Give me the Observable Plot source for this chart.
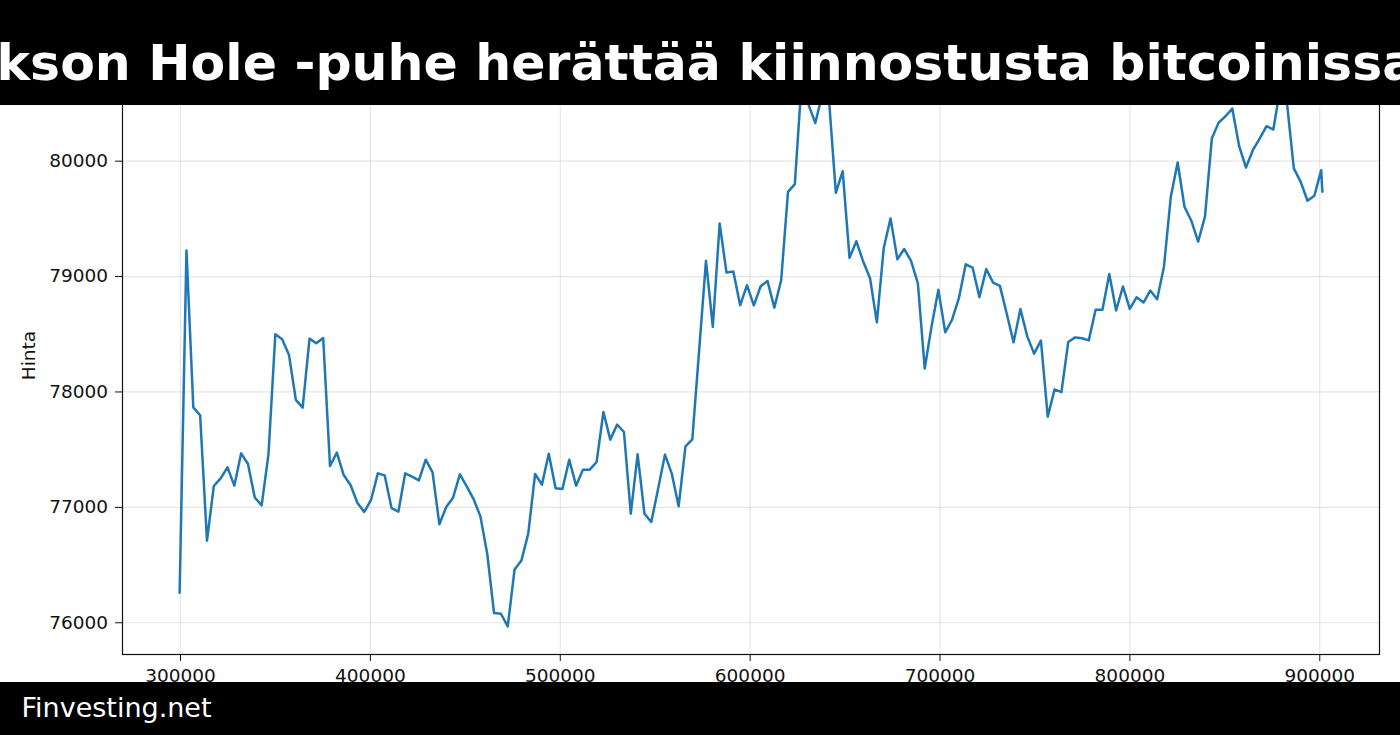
<!DOCTYPE html>
<html>
<head>
<meta charset="utf-8">
<script src="https://cdn.jsdelivr.net/npm/d3@7"></script>
<script src="https://cdn.jsdelivr.net/npm/@observablehq/plot@0.6"></script>
<style>
  html, body { margin: 0; padding: 0; background: white; }
  #wrap { position: relative; width: 1400px; height: 735px; overflow: hidden; background: white; }
  #chart { position: absolute; left: 0; top: 0; }
  .band { position: absolute; left: 0; }
</style>
</head>
<body>
<div id="wrap">
  <div id="chart"></div>
  <svg class="band" id="banner" width="1400" height="105" style="top:0">
    <rect width="1400" height="105" fill="black"></rect>
    <text id="titleText" x="665" y="80" text-anchor="middle" fill="white" font-family="DejaVu Sans" font-weight="bold" font-size="50.5"></text>
  </svg>
  <svg class="band" id="footer" width="1400" height="53" style="top:682px">
    <rect width="1400" height="53" fill="black"></rect>
    <text id="footText" x="21.5" y="34.5" fill="white" font-family="DejaVu Sans" font-size="27"></text>
  </svg>
</div>
<script>
const titleText = "Jackson Hole -puhe herättää kiinnostusta bitcoinissa";
const footText = "Finvesting.net";
const yLabel = "Hinta";

const xTicks = [300000, 400000, 500000, 600000, 700000, 800000, 900000];
const yTicks = [76000, 77000, 78000, 79000, 80000];

const xValues = [
  299540, 303140, 306740, 310340, 313940, 317540, 321140, 324740, 328340, 331940,
  335540, 339140, 342740, 346340, 349940, 353540, 357140, 360740, 364340, 367940,
  371540, 375140, 378740, 382340, 385940, 389540, 393140, 396740, 400340, 403940,
  407540, 411140, 414740, 418340, 421940, 425540, 429140, 432740, 436340, 439940,
  443540, 447140, 450740, 454340, 457940, 461540, 465140, 468740, 472340, 475940,
  479540, 483140, 486740, 490340, 493940, 497540, 501140, 504740, 508340, 511940,
  515540, 519140, 522740, 526340, 529940, 533540, 537140, 540740, 544340, 547940,
  551540, 555140, 558740, 562340, 565940, 569540, 573140, 576740, 580340, 583940,
  587540, 591140, 594740, 598340, 601940, 605540, 609140, 612740, 616340, 619940,
  623540, 627140, 630740, 634340, 637940, 641540, 645140, 648740, 652340, 655940,
  659540, 663140, 666740, 670340, 673940, 677540, 681140, 684740, 688340, 691940,
  695540, 699140, 702740, 706340, 709940, 713540, 717140, 720740, 724340, 727940,
  731540, 735140, 738740, 742340, 745940, 749540, 753140, 756740, 760340, 763940,
  767540, 771140, 774740, 778340, 781940, 785540, 789140, 792740, 796340, 799940,
  803540, 807140, 810740, 814340, 817940, 821540, 825140, 828740, 832340, 835940,
  839540, 843140, 846740, 850340, 853940, 857540, 861140, 864740, 868340, 871940,
  875540, 879140, 882740, 886340, 889940, 893540, 897140, 900740, 901360
];

const prices = [
  76260, 79225, 77867, 77798, 76711, 77185, 77251, 77347, 77188, 77468,
  77376, 77084, 77017, 77462, 78500, 78457, 78321, 77931, 77864, 78462,
  78422, 78468, 77358, 77474, 77280, 77194, 77040, 76960, 77064, 77295,
  77277, 76994, 76962, 77295, 77266, 77234, 77413, 77303, 76853, 77003,
  77084, 77286, 77182, 77072, 76922, 76598, 76084, 76078, 75968, 76462,
  76540, 76772, 77289, 77197, 77465, 77165, 77159, 77413, 77188, 77327,
  77327, 77393, 77827, 77587, 77717, 77653, 76945, 77460, 76945, 76873,
  77162, 77457, 77292, 77009, 77529, 77590, 78360, 79136, 78564, 79460,
  79035, 79043, 78751, 78925, 78751, 78916, 78962, 78731, 78968, 79734,
  79801, 80700, 80490, 80330, 80580, 80530, 79725, 79913, 79162, 79306,
  79130, 78986, 78603, 79245, 79504, 79150, 79239, 79135, 78942, 78203,
  78568, 78885, 78517, 78626, 78813, 79106, 79078, 78822, 79066, 78948,
  78919, 78678, 78430, 78718, 78482, 78332, 78445, 77786, 78022, 77999,
  78433, 78473, 78465, 78447, 78712, 78712, 79023, 78706, 78914, 78720,
  78821, 78775, 78879, 78804, 79086, 79692, 79988, 79605, 79484, 79303,
  79519, 80196, 80334, 80389, 80455, 80130, 79945, 80095, 80196, 80303,
  80274, 80630, 80500, 79937, 79821, 79657, 79700, 79922, 79735
];

const data = xValues.map((x, i) => ({x, price: prices[i]}));
const fmt = d3.format("d");

const chart = Plot.plot({
  width: 1400,
  height: 735,
  marginTop: 56,
  marginBottom: 81,
  marginLeft: 122,
  marginRight: 21,
  style: {fontFamily: "DejaVu Sans", fontSize: "18.5px", background: "white", color: "#111"},
  x: {domain: [269450, 931450], label: null},
  y: {domain: [75725, 80907], label: null},
  marks: [
    Plot.gridX(xTicks, {stroke: "#b0b0b0", strokeOpacity: 0.32, strokeWidth: 1.2}),
    Plot.gridY(yTicks, {stroke: "#b0b0b0", strokeOpacity: 0.32, strokeWidth: 1.2}),
    Plot.lineY(data, {x: "x", y: "price", stroke: "#1f77b4", strokeWidth: 2.5}),
    Plot.frame({stroke: "#111", strokeWidth: 1.2}),
    Plot.axisX({ticks: xTicks, tickFormat: fmt, tickSize: 7, tickPadding: 7, label: null, fontSize: 18.5, stroke: "#111"}),
    Plot.axisY({ticks: yTicks, tickFormat: fmt, tickSize: 7, tickPadding: 7.5, label: null, fontSize: 18.5, stroke: "#111"}),
    Plot.text([yLabel], {frameAnchor: "left", dx: -93, rotate: -90, textAnchor: "middle", fontSize: 18.5, fill: "#111"})
  ]
});
document.getElementById("chart").appendChild(chart);
document.getElementById("titleText").textContent = titleText;
document.getElementById("footText").textContent = footText;
</script>
</body>
</html>
